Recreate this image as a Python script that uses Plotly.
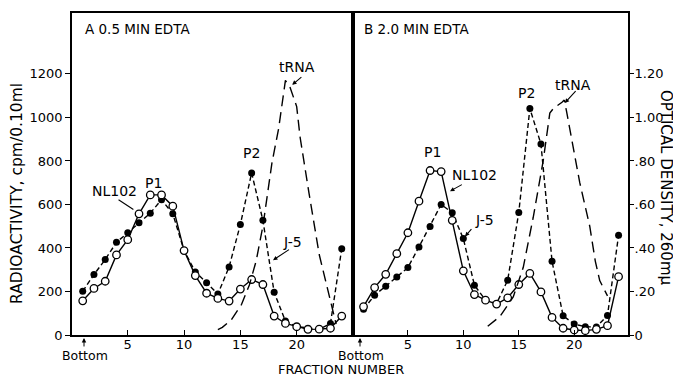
import plotly.graph_objects as go

# ---------------- data ----------------
fractions = list(range(1, 25))

# Panel A : 0.5 min EDTA  (cpm / 0.10 ml)
a_nl102 = [157, 214, 247, 368, 438, 557, 644, 644, 592, 388, 273, 192,
           168, 156, 211, 255, 232, 87, 53, 38, 26, 27, 31, 87]
a_j5 = [201, 278, 347, 426, 470, 516, 560, 622, 557, 388, 290, 240,
        188, 313, 508, 745, 527, 196, 64, 38, 31, 27, 53, 397]
# tRNA optical density (260 mu), panel A
a_trna_frac = [13.0, 13.4, 14.2, 15.1, 15.8, 16.4, 17.0, 17.8, 18.4, 19.0,
               19.4, 20.0, 20.3, 20.7, 21.1, 22.0, 22.9, 23.5]
a_trna_od = [0.025, 0.035, 0.07, 0.14, 0.23, 0.34, 0.50, 0.79, 0.95, 1.17,
             1.14, 1.05, 0.91, 0.77, 0.65, 0.37, 0.175, 0.05]

# Panel B : 2.0 min EDTA
b_nl102 = [130, 218, 279, 374, 470, 615, 756, 751, 527, 295, 186, 160,
           142, 171, 232, 283, 198, 81, 31, 23, 20, 26, 43, 268]
b_j5 = [118, 183, 224, 267, 310, 405, 499, 600, 562, 443, 229, 160,
        145, 252, 563, 1041, 878, 339, 88, 50, 38, 37, 90, 458]
b_trna_frac = [12.2, 13.3, 14.5, 15.4, 16.3, 17.2, 17.8, 18.1, 18.9, 19.1,
               19.3, 20.5, 21.4, 21.9, 22.3, 23.0]
b_trna_od = [0.04, 0.085, 0.175, 0.31, 0.54, 0.80, 1.02, 1.04, 1.07, 1.08,
             1.03, 0.70, 0.50, 0.34, 0.25, 0.18]

cpm_ticks = [0, 200, 400, 600, 800, 1000, 1200]
od_ticks = [0, 0.2, 0.4, 0.6, 0.8, 1.0, 1.2]
od_ticktext = ["0", ".20", ".40", ".60", ".80", "1.00", "1.20"]
x_ticks = [5, 10, 15, 20]

# ---------------- figure ----------------
FONT = "DejaVu Sans"
YMAX = 1480
# page body has an 8 px margin; plot area spans page px x 72..628, y 11..335
fig = go.Figure()

solid = dict(color="black", width=1.4)
short_dash = dict(color="black", width=1.4, dash="5px,3px")
long_dash = dict(color="black", width=1.4, dash="11px,6px")
filled_m = dict(symbol="circle", size=7, color="black")
open_m = dict(symbol="circle", size=7.5, color="white", line=dict(width=1.3, color="black"))

# panel A
fig.add_trace(go.Scatter(x=a_trna_frac, y=a_trna_od, mode="lines", line=long_dash,
                         xaxis="x", yaxis="y3"))
fig.add_trace(go.Scatter(x=fractions, y=a_j5, mode="lines+markers", line=short_dash,
                         marker=filled_m, xaxis="x", yaxis="y"))
fig.add_trace(go.Scatter(x=fractions, y=a_nl102, mode="lines+markers", line=solid,
                         marker=open_m, xaxis="x", yaxis="y"))
# panel B
fig.add_trace(go.Scatter(x=b_trna_frac, y=b_trna_od, mode="lines", line=long_dash,
                         xaxis="x2", yaxis="y4"))
fig.add_trace(go.Scatter(x=fractions, y=b_j5, mode="lines+markers", line=short_dash,
                         marker=filled_m, xaxis="x2", yaxis="y2"))
fig.add_trace(go.Scatter(x=fractions, y=b_nl102, mode="lines+markers", line=solid,
                         marker=open_m, xaxis="x2", yaxis="y2"))

split = 281 / 556
axis_common = dict(showline=True, linecolor="black", linewidth=1.5, mirror=True,
                   showgrid=False, zeroline=False,
                   tickfont=dict(family=FONT, size=13, color="black"))

fig.update_layout(
    width=673, height=375,
    margin=dict(l=64, r=53, t=3, b=48),
    paper_bgcolor="white", plot_bgcolor="white",
    showlegend=False,
    font=dict(family=FONT, size=14, color="black"),
    xaxis=dict(domain=[0, split], range=[0.05, 25.0], anchor="y",
               tickvals=x_ticks, ticks="inside", ticklen=5, tickcolor="black",
               ticklabelstandoff=-3, **axis_common),
    xaxis2=dict(domain=[split, 1], range=[0.05, 24.85], anchor="y2",
                tickvals=x_ticks, ticks="inside", ticklen=5, tickcolor="black",
                ticklabelstandoff=-3, **axis_common),
    yaxis=dict(range=[0, YMAX], anchor="x", tickvals=cpm_ticks, ticks="outside",
               ticklen=5, tickcolor="black", **axis_common),
    yaxis2=dict(range=[0, YMAX], anchor="x2", showticklabels=False, ticks="",
                **axis_common),
    yaxis3=dict(range=[0, YMAX / 1000], overlaying="y", anchor="x", visible=False),
    yaxis4=dict(range=[0, YMAX / 1000], overlaying="y2", anchor="x2", side="right",
                tickvals=od_ticks, ticktext=od_ticktext, ticks="outside", ticklen=5,
                tickcolor="black", showline=False, showgrid=False, zeroline=False,
                ticklabelstandoff=-2,
                tickfont=dict(family=FONT, size=13, color="black")),
)


def txt(x, y, s, xref="x", yref="y", size=14):
    fig.add_annotation(x=x, y=y, xref=xref, yref=yref, text=s, showarrow=False,
                       xanchor="center", yanchor="middle",
                       font=dict(family=FONT, size=size, color="black"))


def leader(x0, y0, x1, y1, xref="x", yref="y", head=True):
    fig.add_annotation(x=x1, y=y1, ax=x0, ay=y0, xref=xref, yref=yref,
                       axref=xref, ayref=yref, text="", showarrow=True,
                       arrowhead=2 if head else 0, arrowsize=0.8, arrowwidth=1.1,
                       arrowcolor="black")


def px_to_paper(px, py):
    # page pixel -> paper fraction of the plot area
    return (px - 72) / 556, (335 - py) / 324


def ptxt(px, py, s, angle=0, size=14, xanchor="center"):
    x, y = px_to_paper(px, py)
    fig.add_annotation(x=x, y=y, xref="paper", yref="paper", text=s, showarrow=False,
                       textangle=angle, xanchor=xanchor, yanchor="middle",
                       font=dict(family=FONT, size=size, color="black"))


# panel titles
ptxt(83, 27, "A 0.5 MIN EDTA", xanchor="left", size=13.5)
ptxt(362, 27, "B 2.0 MIN EDTA", xanchor="left", size=13.5)

# panel A labels
txt(7.3, 700, "P1")
txt(3.8, 660, "NL102")
leader(4.05, 626, 5.5, 577, head=False)
txt(16.0, 838, "P2")
txt(20.0, 1232, "tRNA")
leader(20.55, 1191, 19.6, 1150)
txt(19.6, 426, "J-5")
leader(19.45, 397, 17.9, 344)

# panel B labels
txt(7.2, 842, "P1", xref="x2", yref="y2")
txt(11.0, 737, "NL102", xref="x2", yref="y2")
leader(10.0, 695, 8.8, 661, xref="x2", yref="y2")
txt(11.9, 527, "J-5", xref="x2", yref="y2")
leader(10.85, 493, 10.15, 453, xref="x2", yref="y2")
txt(15.7, 1113, "P2", xref="x2", yref="y2")
txt(19.9, 1150, "tRNA", xref="x2", yref="y2")
leader(20.25, 1128, 19.15, 1066, xref="x2", yref="y2")

# axis titles and bottom markers
ptxt(17, 193, "RADIOACTIVITY, cpm/0.10ml", angle=-90, size=15.5)
ptxt(666, 187, "OPTICAL DENSITY, 260mμ", angle=90, size=15)
ptxt(341, 370, "FRACTION NUMBER", size=13)
for bx in (84, 360):
    x, y = px_to_paper(bx, 338)
    fig.add_annotation(x=x, y=y, xref="paper", yref="paper", ax=0, ay=10, text="",
                       showarrow=True, arrowhead=2, arrowsize=0.9, arrowwidth=1,
                       arrowcolor="black")
    ptxt(bx + 1, 356, "Bottom", size=12.5)

fig.write_html("out.html")
